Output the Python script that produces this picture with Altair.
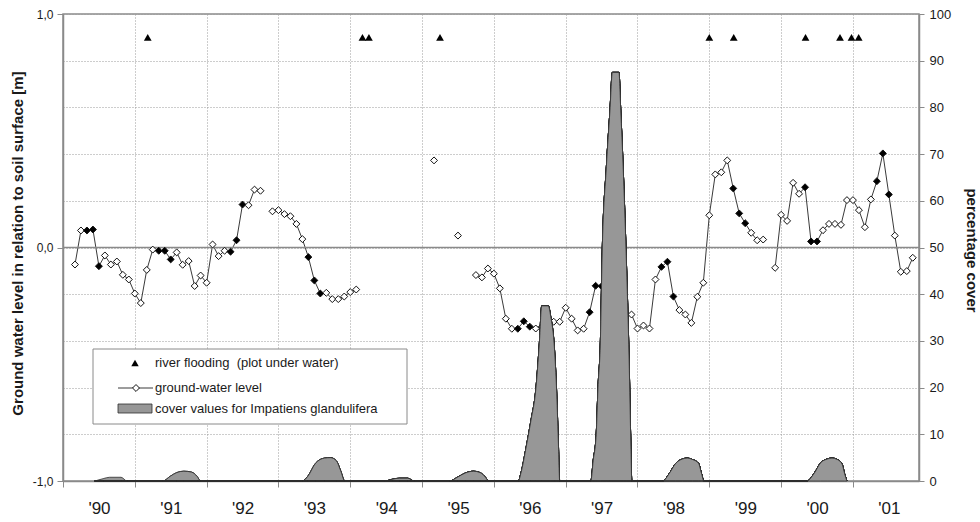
import altair as alt
import pandas as pd

# ---------------- data ----------------
# Ground-water level [m], monthly readings; month index counted from Jan 1990
gw_run_start = [2, 35, 62, 66, 69, 119]
gw_run_values = [
    [-0.073, 0.073, 0.073, 0.077, -0.080, -0.034, -0.073, -0.060, -0.117, -0.137,
     -0.197, -0.238, -0.096, -0.009, -0.014, -0.014, -0.051, -0.021, -0.074, -0.058,
     -0.165, -0.120, -0.151, 0.013, -0.037, -0.014, -0.018, 0.031, 0.184, 0.181,
     0.248, 0.243],
    [0.155, 0.160, 0.143, 0.134, 0.101, 0.036, -0.041, -0.141, -0.197, -0.194,
     -0.221, -0.221, -0.210, -0.191, -0.180],
    [0.373],
    [0.051],
    [-0.118, -0.128, -0.090, -0.112, -0.175, -0.305, -0.348, -0.348, -0.316, -0.339,
     -0.347, -0.340, -0.330, -0.318, -0.318, -0.258, -0.305, -0.355, -0.348, -0.277,
     -0.164, -0.166, -0.200, -0.250, -0.280, -0.290, -0.287, -0.347, -0.334, -0.347,
     -0.137, -0.083, -0.061, -0.210, -0.268, -0.287, -0.323, -0.211, -0.151, 0.138,
     0.313, 0.322, 0.373, 0.253, 0.146, 0.104, 0.063, 0.031, 0.034],
    [-0.087, 0.140, 0.114, 0.277, 0.230, 0.258, 0.026, 0.026, 0.074, 0.101,
     0.101, 0.097, 0.203, 0.203, 0.160, 0.087, 0.206, 0.284, 0.403, 0.227,
     0.051, -0.104, -0.101, -0.044],
]
gw_filled_months = [4, 5, 6, 16, 17, 18, 28, 29, 30, 41, 42, 43, 76, 77, 78,
                    88, 89, 90, 100, 101, 102, 112, 113, 114, 124, 125, 126,
                    136, 137, 138]

# River flooding events (decimal year), drawn at a fixed level
flood_years = [1991.18, 1994.17, 1994.26, 1995.25, 1999.00, 1999.34,
               2000.34, 2000.82, 2000.98, 2001.08]
flood_level = [0.9] * len(flood_years)

# Cover of Impatiens glandulifera [%], one bump per season (month index from Jan 1990)
cover_months = [
    [5.3, 6.7, 7.8, 9.7, 10.7],
    [16.7, 17.9, 19.0, 20.2, 21.5, 22.4, 23.0],
    [40.0, 40.9, 42.2, 43.7, 44.7, 45.7, 46.4, 47.1],
    [53.7, 55.1, 56.2, 57.6, 58.7],
    [64.6, 65.9, 67.2, 68.6, 69.7, 70.6, 71.1],
    [76.1, 76.5, 77.4, 78.2, 79.0, 79.6, 80.0, 81.1, 81.5, 82.1, 82.5, 82.8, 83.0],
    [88.2, 88.6, 89.1, 89.4, 89.8, 90.1, 90.8, 91.4, 91.8, 92.9, 93.2, 93.6, 94.1,
     94.6, 94.9, 95.05],
    [100.2, 101.3, 102.4, 103.5, 104.3, 105.2, 106.2, 106.7, 107.1],
    [124.3, 125.5, 126.6, 127.7, 128.5, 129.4, 130.2, 130.6, 131.0],
]
cover_pct = [
    [0, 0.5, 0.8, 0.8, 0],
    [0, 1.0, 1.8, 2.1, 1.9, 1.0, 0],
    [0, 1.0, 3.8, 4.9, 5.0, 4.3, 2.2, 0],
    [0, 0.4, 0.6, 0.6, 0],
    [0, 0.8, 1.7, 2.1, 1.8, 0.8, 0],
    [0, 1.6, 7.3, 13.0, 19.5, 29.5, 37.5, 37.5, 35.2, 28.8, 18.8, 7.3, 0],
    [0, 4.4, 10.0, 20.0, 30.0, 48.8, 67.3, 79.4, 87.5, 87.5, 79.4, 67.3, 48.8,
     25.9, 7.3, 0],
    [0, 1.6, 3.8, 4.7, 4.9, 4.6, 3.8, 1.6, 0],
    [0, 1.6, 3.9, 4.7, 4.9, 4.6, 3.6, 1.6, 0],
]

year_ticks = list(range(1990, 2002))
level_ticks = [-1, 0, 1]
pct_ticks = list(range(0, 101, 10))
legend_labels = ["river flooding \u00a0(plot under water)",
                 "ground-water level",
                 "cover values for Impatiens glandulifera"]

# ---------------- tables ----------------
gw_rows = []
for run_id, (start, vals) in enumerate(zip(gw_run_start, gw_run_values)):
    for j, v in enumerate(vals):
        m = start + j
        gw_rows.append({"t": 1990 + m / 12.0, "level": v, "run": run_id,
                        "kind": "filled" if m in gw_filled_months else "open"})
gw = pd.DataFrame(gw_rows)

flood = pd.DataFrame({"t": flood_years, "level": flood_level})

cov_rows = []
for b, (ms, ps) in enumerate(zip(cover_months, cover_pct)):
    for m, p in zip(ms, ps):
        cov_rows.append({"t": 1990 + m / 12.0, "pct": p, "bump": b})
cover = pd.DataFrame(cov_rows)

zero_df = pd.DataFrame({"level": [0.0]})
one = pd.DataFrame({"a": [0]})

# ---------------- scales & axes ----------------
W, H = 856, 467
GRID = "#9a9a9a"
AX = "#8a8a8a"
TXT = "#1a1a1a"

x_scale = alt.Scale(domain=[1990, 2001.92], nice=False, zero=False)
lvl_scale = alt.Scale(domain=[-1, 1], nice=False, zero=False)
pct_scale = alt.Scale(domain=[0, 100], nice=False)

x_axis = alt.Axis(orient="bottom", values=year_ticks,
                  labelExpr="\"'\" + substring('' + datum.value, 2, 4)",
                  labelOffset=36, labelFlush=False, labelOverlap=False,
                  grid=True, gridDash=[1, 2], gridColor=GRID, gridWidth=1,
                  tickSize=6, tickColor=AX, domainColor=AX, domainWidth=1.5,
                  labelFontSize=17, labelPadding=13, labelColor=TXT, title=None)

lvl_axis = alt.Axis(orient="left", values=level_ticks,
                    labelExpr="(datum.value < 0 ? '-' : '') + replace(format(abs(datum.value), '.1f'), '.', ',')",
                    grid=False, tickSize=6, tickColor=AX, domainColor=AX, domainWidth=1.5,
                    labelFontSize=12, labelPadding=4, labelColor=TXT,
                    title="Ground water level in relation to soil surface  [m]",
                    titleFontSize=15, titleFontWeight="bold", titleColor=TXT,
                    titleX=-46, titleY=229, titleAngle=270, titleAlign="center",
                    titleBaseline="middle")

pct_axis = alt.Axis(orient="right", values=pct_ticks,
                    grid=True, gridDash=[1, 2], gridColor=GRID, gridWidth=1,
                    tickSize=5, tickColor=AX, domainColor=AX, domainWidth=1.5,
                    labelFontSize=13, labelPadding=5, labelColor=TXT,
                    title="percentage cover", titleFontSize=15, titleFontWeight="bold",
                    titleColor=TXT, titleX=52, titleY=236, titleAngle=90,
                    titleAlign="center", titleBaseline="middle")

X = alt.X("t:Q", scale=x_scale, axis=x_axis)
Xs = alt.X("t:Q", scale=x_scale)

# ---------------- layers ----------------
gw_line = alt.Chart(gw).mark_line(color="#3a3a3a", strokeWidth=1).encode(
    x=X, y=alt.Y("level:Q", scale=lvl_scale, axis=lvl_axis), detail="run:N")

zero_line = alt.Chart(zero_df).mark_rule(color=AX, strokeWidth=1.5).encode(
    y=alt.Y("level:Q", scale=lvl_scale, axis=None))

gw_pts = alt.Chart(gw).mark_point(shape="diamond", size=48, filled=True, opacity=1,
                                  stroke="#111111", strokeWidth=1).encode(
    x=Xs, y=alt.Y("level:Q", scale=lvl_scale, axis=None),
    fill=alt.Fill("kind:N", scale=alt.Scale(domain=["open", "filled"],
                                            range=["white", "black"]), legend=None))

flood_pts = alt.Chart(flood).mark_point(shape="triangle-up", size=60, filled=True,
                                        color="black", opacity=1).encode(
    x=Xs, y=alt.Y("level:Q", scale=lvl_scale, axis=None))

cover_area = alt.Chart(cover).mark_area(interpolate="monotone", fill="#979797",
                                        stroke="#2e2e2e", strokeWidth=0.8).encode(
    x=Xs, y=alt.Y("pct:Q", scale=pct_scale, axis=pct_axis), detail="bump:N")

# ---------------- legend (decoration) ----------------
leg_box = alt.Chart(one).mark_rect(fill="white", stroke="#8a8a8a", strokeWidth=1).encode(
    x=alt.value(30), x2=alt.value(344), y=alt.value(335), y2=alt.value(410))
leg_tri = alt.Chart(one).mark_point(shape="triangle-up", size=55, filled=True,
                                    color="black", opacity=1).encode(
    x=alt.value(72), y=alt.value(349))
leg_line = alt.Chart(one).mark_rule(color="#3a3a3a", strokeWidth=1).encode(
    x=alt.value(55), x2=alt.value(90), y=alt.value(374))
leg_dia = alt.Chart(one).mark_point(shape="diamond", size=48, filled=True, fill="white",
                                    stroke="#111111", strokeWidth=1, opacity=1).encode(
    x=alt.value(73), y=alt.value(374))
leg_sw = alt.Chart(one).mark_rect(fill="#979797", stroke="#2e2e2e", strokeWidth=0.8).encode(
    x=alt.value(55), x2=alt.value(89), y=alt.value(390), y2=alt.value(399))
leg_txt = [
    alt.Chart(one).mark_text(text=lab, align="left", baseline="middle", fontSize=13,
                             color=TXT).encode(x=alt.value(92), y=alt.value(yy))
    for lab, yy in zip(legend_labels, [349, 374, 395])
]

chart = alt.layer(gw_line, zero_line, gw_pts, flood_pts, cover_area,
                  leg_box, leg_tri, leg_line, leg_dia, leg_sw,
                  *leg_txt).resolve_scale(y="independent").properties(
    width=W, height=H,
    padding={"left": 63, "top": 14, "right": 61, "bottom": 41},
    autosize=alt.AutoSizeParams(type="none"),
    background="white",
).configure(font="Liberation Sans").configure_view(stroke=AX, strokeWidth=1.5)

chart.save("out.html", embed_options={"renderer": "svg", "actions": False})
